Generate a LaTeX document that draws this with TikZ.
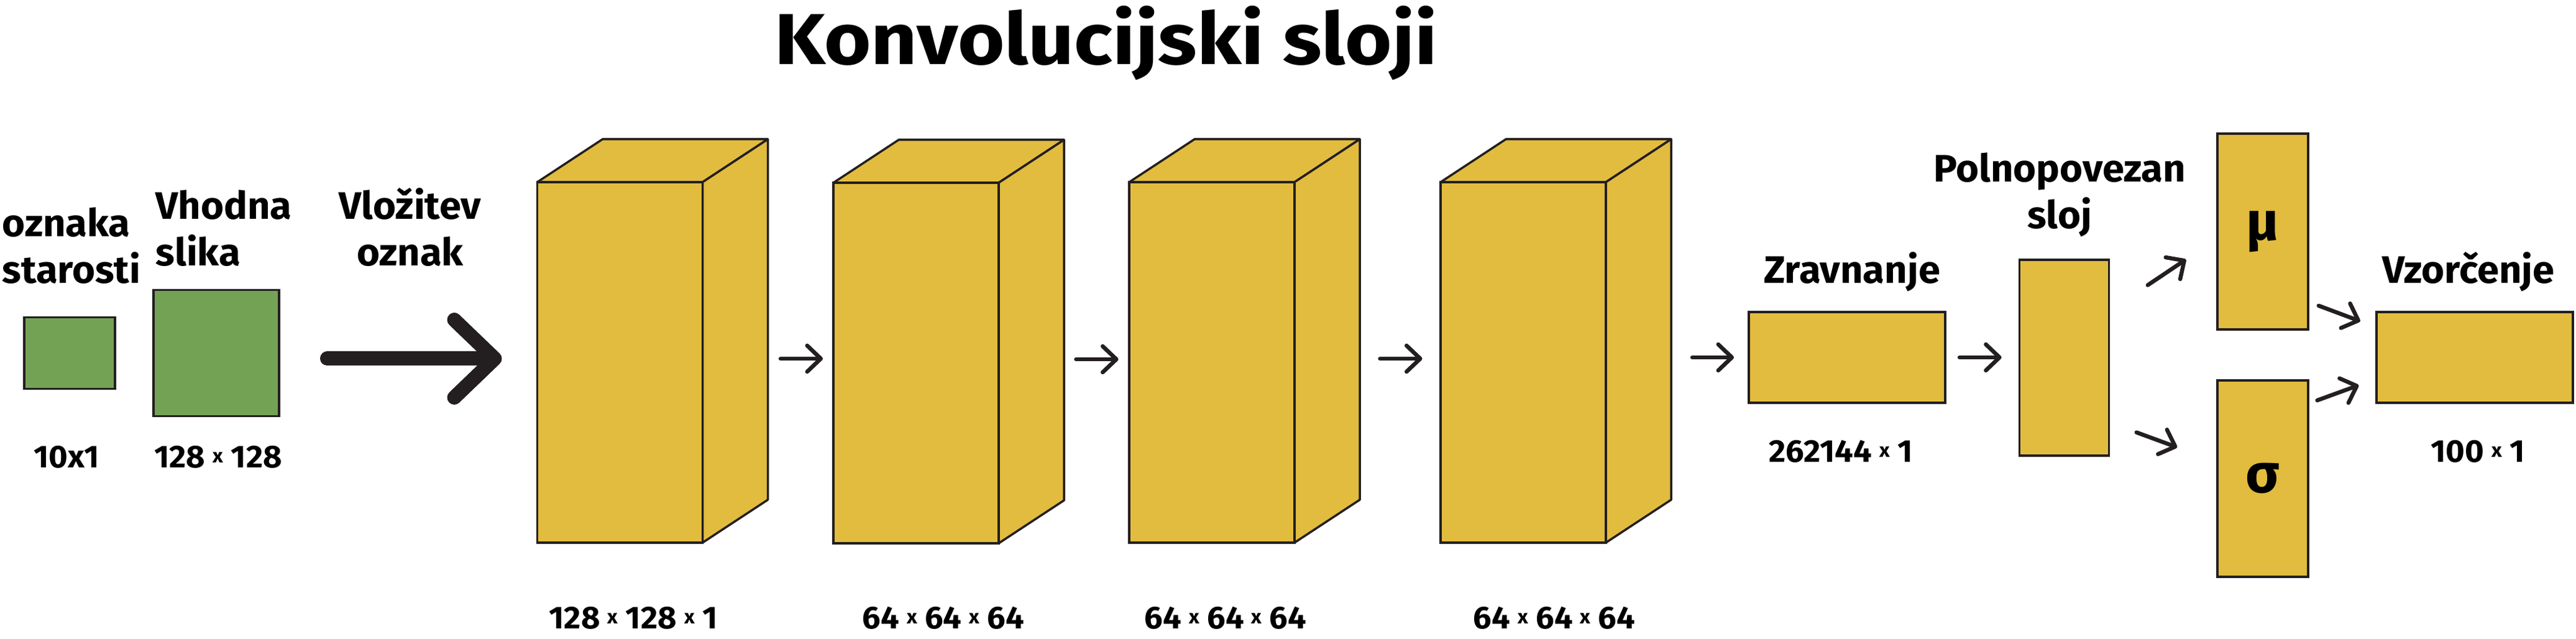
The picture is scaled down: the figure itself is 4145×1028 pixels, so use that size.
\documentclass[tikz,border=0pt]{standalone}
\usepackage{fontspec}
\setmainfont{Fira Sans}[FakeStretch=1.03]
\newfontfamily\titlefont{Fira Sans}[FakeStretch=1.115]
\usepackage{xcolor}
\definecolor{layergold}{RGB}{226,188,62}
\definecolor{inputgreen}{RGB}{116,162,85}
\definecolor{inkblack}{RGB}{35,31,32}
\usepackage{tikz}
\usetikzlibrary{arrows.meta}
\usetikzlibrary{calc}
\newcommand{\depthx}{105}
\newcommand{\depthy}{-69}
\newcommand{\dimx}{\kern3.5pt\raisebox{2.3pt}{\fontsize{9}{9}\selectfont x}\kern3.5pt}
\tikzset{
    common/.style={draw=inkblack, line width=0.35mm, rectangle, inner sep=0pt, outer sep=0pt},
    inbox/.style={common, fill=inputgreen},
    flatbox/.style={common, fill=layergold},
    cubefront/.style={flatbox, minimum width=26.6mm, minimum height=58mm},
    face/.style={draw=inkblack, line width=0.35mm, fill=layergold, line join=round},
    header/.style={font=\fontsize{17.5}{21.5}\selectfont\bfseries, inner sep=0pt, anchor=base},
    dimlabel/.style={font=\fontsize{14.5}{16}\selectfont\bfseries, inner sep=0pt, anchor=base},
    greek/.style={font=\fontsize{25}{25}\selectfont\bfseries},
    arr/.style={draw=inkblack, line width=0.65mm, line cap=round, -{Straight Barb[length=2.2mm, width=4.2mm, round]}},
    bigarr/.style={draw=inkblack, line width=2.3mm, line cap=round, -{Straight Barb[length=6.5mm, width=12.5mm, round]}}
}
\begin{document}
\begin{tikzpicture}[x=0.1mm, y=-0.1mm]
  \useasboundingbox (0,0) rectangle (4145,1028);

  \newcommand\convcube[2]{
    \node[cubefront] (#1) at #2 {};
    \draw[face] (#1.north west) -- ++(\depthx,\depthy) -- ++(266,0) -- (#1.north east) -- cycle;
    \draw[face] (#1.north east) -- ++(\depthx,\depthy) -- ++(0,580) -- (#1.south east) -- cycle;
    \coordinate (#1-out) at ([shift={(\depthx,-6)}]#1.east);
  }

  \node[font=\fontsize{33}{40}\selectfont\titlefont\bfseries, inner sep=0pt, anchor=base] (title) at (1780,104) {Konvolucijski sloji};

  \node[header, align=left, anchor=base west] (agelabel) at (3,456) {oznaka\\starosti};
  \node[inbox, minimum width=14.6mm, minimum height=11.5mm] (age) at (112,568) {};
  \node[dimlabel] (agesize) at (107,753) {10x1};

  \node[header, align=left, anchor=base west] (imglabel) at (250,428) {Vhodna\\slika};
  \node[inbox, minimum width=20.2mm, minimum height=20.3mm] (img) at (348,568) {};
  \node[dimlabel] (imgsize) at (351,753) {128\dimx128};

  \node[header, align=center] (embedlabel) at (660,428) {Vložitev\\oznak};

  \convcube{c1}{(997.5,583)}
  \convcube{c2}{(1474,584)}
  \convcube{c3}{(1950,583)}
  \convcube{c4}{(2451,583)}

  \node[dimlabel] (c1size) at (1019,1012) {128\dimx128\dimx1};
  \node[dimlabel] (c2size) at (1518,1012) {64\dimx64\dimx64};
  \node[dimlabel] (c3size) at (1972,1012) {64\dimx64\dimx64};
  \node[dimlabel] (c4size) at (2501,1012) {64\dimx64\dimx64};

  \node[flatbox, minimum width=31.6mm, minimum height=14.6mm] (flat) at (2972,575) {};
  \node[header] (flatlabel) at (2980,455.5) {Zravnanje};
  \node[dimlabel] (flatsize) at (2962,744) {262144\dimx1};

  \node[flatbox, minimum width=14.4mm, minimum height=31.5mm] (fc) at (3321.6,575.4) {};
  \node[header, align=center] (fclabel) at (3314,368) {Polnopovezan\\sloj};

  \node[flatbox, greek, minimum width=14.6mm, minimum height=31.5mm] (mu) at (3641,372.5) {μ};
  \node[flatbox, greek, minimum width=14.6mm, minimum height=31.6mm] (sigma) at (3641,770) {\raisebox{-1.2mm}{σ}};

  \node[flatbox, minimum width=31.6mm, minimum height=14.6mm] (sample) at (3982,575) {};
  \node[header] (samplelabel) at (3972,455.5) {Vzorčenje};
  \node[dimlabel] (samplesize) at (3987,744) {100\dimx1};

  \draw[bigarr, shorten <=7.75mm, shorten >=5.7mm] (img.east |- c1-out) -- (c1.west |- c1-out);
  \draw[arr, shorten <=2.05mm, shorten >=1.7mm] (c1-out) -- (c1-out -| c2.west);
  \draw[arr, shorten <=1.95mm, shorten >=1.75mm] (c2-out) -- (c2-out -| c3.west);
  \draw[arr, shorten <=3.25mm, shorten >=2.95mm] (c3-out) -- (c3-out -| c4.west);
  \draw[arr, shorten <=3.4mm, shorten >=2.4mm] (c4-out |- flat.west) -- (flat.west);
  \draw[arr, shorten <=2.3mm, shorten >=2.9mm] (flat.east) -- (flat.east -| fc.west);
  \draw[arr, shorten <=7.5mm, shorten >=6.1mm] ([yshift=7.5mm]fc.east) -- ([yshift=-1.1mm]mu.west);
  \draw[arr, shorten <=4.7mm, shorten >=6.9mm] ([yshift=-10.4mm]fc.east) -- ([yshift=2.66mm]sigma.west);
  \draw[arr, shorten <=1.8mm, shorten >=2.8mm] ([yshift=-11.3mm]mu.east) -- ([yshift=4.84mm]sample.west);
  \draw[arr, shorten <=1.55mm, shorten >=3.05mm] ([yshift=12.06mm]sigma.east) -- ([yshift=-3.43mm]sample.west);
\end{tikzpicture}
\end{document}
